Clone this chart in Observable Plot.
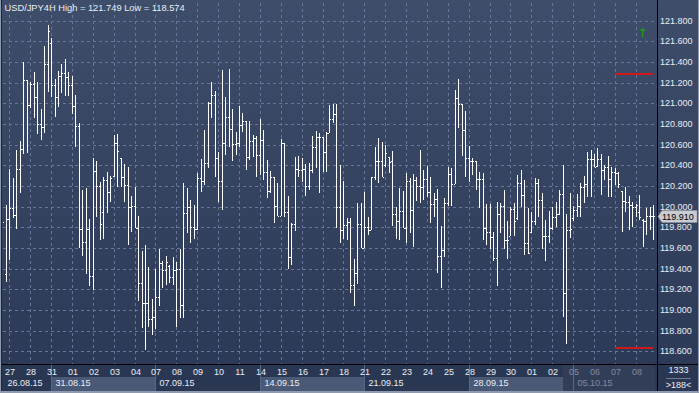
<!DOCTYPE html>
<html><head><meta charset="utf-8">
<script src="https://cdn.jsdelivr.net/npm/d3@7"></script>
<script src="https://cdn.jsdelivr.net/npm/@observablehq/plot@0.6"></script>
<style>html,body{margin:0;padding:0;background:#2a3753;}</style>
</head><body><div id="chart"></div>
<script>
// ---------- data ----------
const symbol = "USD/JPY";
const period = "4H";
const periodHigh = "121.749";
const periodLow = "118.574";

const opens = [119.775,119.349,119.881,119.987,119.920,120.365,120.558,121.226,120.984,121.187,121.061,120.800,120.771,121.381,121.584,121.178,121.061,121.265,121.294,121.255,121.178,120.974,120.781,119.784,119.658,119.784,119.329,120.345,120.200,119.949,120.258,120.142,120.297,120.616,120.471,120.287,120.210,119.997,120.007,119.794,119.262,119.068,119.068,118.913,118.933,119.126,119.455,119.387,119.426,119.320,119.387,119.397,119.049,119.939,119.997,119.804,119.784,120.278,120.249,120.423,121.003,121.081,120.471,120.249,120.616,120.868,120.752,120.607,120.616,120.791,120.829,120.481,120.636,120.665,120.500,120.645,120.336,120.152,120.287,120.007,119.910,120.616,119.949,119.513,119.833,120.365,120.355,120.365,120.200,120.355,120.578,120.674,120.674,120.529,120.713,120.849,120.897,119.997,119.775,119.823,119.852,119.242,119.358,119.833,119.600,119.804,119.775,120.287,120.442,120.442,120.403,120.481,120.442,119.929,119.862,119.958,119.794,120.249,119.968,120.258,120.200,120.191,120.268,120.142,120.026,120.075,119.523,119.581,120.036,120.316,120.220,121.052,120.994,120.742,120.471,120.442,120.442,120.268,120.268,119.794,119.755,119.707,119.504,119.929,120.007,119.678,119.716,119.978,119.891,120.229,120.113,119.649,119.755,119.862,120.229,120.065,119.716,119.716,119.794,119.900,119.929,120.123,119.165,119.775,119.891,119.968,120.007,120.191,120.220,120.462,120.462,120.394,120.462,120.355,120.384,120.268,120.336,120.326,120.152,120.055,120.045,120.016,119.997,119.949,119.871,119.862,119.910,119.910];
const highs = [119.920,120.016,120.365,120.278,120.549,120.636,121.400,121.226,121.207,121.303,121.207,120.945,121.555,121.758,121.632,121.236,121.313,121.381,121.429,121.303,121.265,121.081,120.810,120.162,120.181,119.881,120.471,120.442,120.239,120.287,120.336,120.297,120.694,120.703,120.471,120.413,120.384,120.104,120.191,119.910,119.571,119.629,119.417,119.107,119.397,119.591,119.475,119.523,119.436,119.513,119.465,119.591,120.229,120.181,120.065,120.016,120.326,120.462,120.742,121.013,121.207,121.119,120.529,121.323,121.061,121.332,120.945,120.723,120.974,120.907,120.829,120.829,120.694,120.684,120.849,120.742,120.452,120.345,120.287,120.229,120.655,120.616,120.104,119.842,120.481,120.491,120.471,120.413,120.423,120.684,120.732,120.713,120.674,120.723,120.984,120.994,120.994,120.403,120.249,119.891,119.891,119.494,120.036,120.036,120.142,119.900,120.287,120.578,120.665,120.626,120.597,120.481,120.539,119.997,120.181,120.152,120.326,120.278,120.316,120.287,120.549,120.355,120.394,120.287,120.133,120.171,119.813,120.084,120.384,120.374,121.129,121.236,120.994,120.926,120.587,120.471,120.442,120.336,120.326,120.026,120.026,119.755,120.045,120.036,120.162,119.862,119.997,120.036,120.307,120.355,120.258,119.987,119.949,120.278,120.268,120.133,119.871,119.958,119.997,120.045,120.162,120.403,119.929,120.133,120.007,120.123,120.229,120.297,120.529,120.549,120.510,120.568,120.510,120.403,120.491,120.384,120.374,120.336,120.152,120.191,120.104,120.045,120.026,120.113,119.881,119.987,119.997,120.016];
const lows = [119.678,119.271,119.484,119.891,119.784,120.133,120.510,120.520,120.955,120.858,120.703,120.645,120.713,121.110,121.061,120.868,120.965,121.100,121.071,121.071,120.897,120.578,119.600,119.523,119.349,119.233,119.194,119.900,119.678,119.687,119.939,120.045,120.287,120.191,120.191,120.045,119.629,119.755,119.794,119.088,118.826,118.613,118.836,118.759,118.817,119.039,119.213,119.242,119.262,119.242,118.836,118.923,118.923,119.746,119.649,119.687,119.775,120.142,120.210,120.374,120.858,120.287,120.045,119.968,120.500,120.578,120.442,120.500,120.578,120.723,120.355,120.452,120.481,120.287,120.307,120.258,120.084,120.133,119.842,119.910,119.910,119.900,119.397,119.436,119.765,120.287,120.239,120.104,120.162,120.326,120.374,120.133,120.336,120.336,120.713,120.810,119.794,119.649,119.687,119.678,119.165,119.039,119.252,119.600,119.600,119.726,119.775,120.258,120.229,120.287,120.384,120.326,119.813,119.687,119.678,119.794,119.649,119.746,119.610,120.055,120.036,120.065,120.094,119.842,119.900,119.358,119.213,119.513,120.007,120.007,120.220,120.761,120.491,120.287,120.239,120.307,120.162,119.987,119.678,119.629,119.591,119.475,119.233,119.746,119.591,119.494,119.716,119.716,119.871,119.997,119.533,119.542,119.746,119.823,119.900,119.591,119.475,119.649,119.775,119.804,119.920,118.933,118.671,119.697,119.862,119.900,119.900,120.036,120.094,120.094,120.384,120.384,120.113,120.258,120.094,120.094,120.210,120.181,119.755,119.949,119.775,119.804,119.900,119.871,119.610,119.726,119.775,119.678];
const closes = [119.852,119.881,119.987,119.920,120.365,120.558,121.226,120.984,121.187,121.061,120.800,120.771,121.381,121.700,121.178,121.061,121.265,121.294,121.255,121.178,120.974,120.781,119.784,119.658,119.784,119.329,120.345,120.200,119.833,120.258,120.142,120.278,120.616,120.539,120.287,120.210,119.997,120.007,119.794,119.262,119.068,119.068,118.913,118.933,119.126,119.455,119.387,119.465,119.320,119.387,119.397,119.049,119.939,119.997,119.804,119.784,120.278,120.249,120.423,121.003,121.081,120.471,120.249,120.616,120.868,120.752,120.607,120.616,120.791,120.829,120.481,120.636,120.665,120.500,120.645,120.336,120.152,120.287,120.007,119.910,120.616,119.949,119.513,119.833,120.365,120.355,120.365,120.200,120.355,120.578,120.674,120.674,120.529,120.713,120.849,120.897,119.997,119.775,119.823,119.852,119.242,119.358,119.833,119.600,119.804,119.775,120.287,120.442,120.442,120.287,120.520,120.433,119.929,119.862,119.958,119.794,120.249,119.968,120.258,120.200,120.191,120.268,120.142,120.026,120.075,119.523,119.581,120.036,120.316,120.220,121.052,120.994,120.742,120.471,120.442,120.442,120.268,120.268,119.794,119.755,119.707,119.504,119.929,120.007,119.678,119.678,119.978,119.862,120.229,120.113,119.649,119.552,119.862,120.229,120.065,119.716,119.716,119.794,119.900,119.929,120.123,119.165,119.775,119.784,119.968,120.007,120.191,120.220,120.462,120.462,120.384,120.462,120.355,120.384,120.268,120.336,120.326,120.220,120.055,120.045,120.016,119.997,120.016,119.900,119.862,119.910,119.910,119.910];

const dayLabels = ["27","28","31","01","02","03","04","07","08","09","10","11","14","15","16","17","18","21","22","23","24","25","28","29","30","01","02","05","06","07","08"];
const weekLabels = ["26.08.15","31.08.15","07.09.15","14.09.15","21.09.15","28.09.15","05.10.15"];
const weekStartDay = [-1, 2, 7, 12, 17, 22, 27];   // index into dayLabels (-1: partial first week)
const firstDayBar = 2;     // bar index of the first labelled day
const barsPerDay = 6;
const dimmedFromBar = 161; // start of the dimmed region of the time bar
const yTicks = [118.6,118.8,119.0,119.2,119.4,119.6,119.8,120.0,120.2,120.4,120.6,120.8,121.0,121.2,121.4,121.6,121.8];
const levelLines = [{price: 121.294, fromBar: 176.1, toBar: 187.0}, {price: 118.640, fromBar: 176.1, toBar: 187.0}];
const arrowMarks = [{bar: 183.7, price: 121.68}];
const totalBars = "1333";

// ---------- layout ----------
const W = 699, H = 393, mL = 3, mR = 42, mT = 3, mB = 29;
const xDom = [0.2, 188.1];
const yDom = [118.478, 121.971];
const px = (xDom[1] - xDom[0]) / (W - mL - mR);  // one pixel in bar units

const bars = opens.map((o, i) => ({i, o, h: highs[i], l: lows[i], c: closes[i]}));
const days = dayLabels.map((t, k) => ({t, i: firstDayBar + k * barsPerDay}));
const weeks = weekLabels.map((t, j) => ({
  t, j,
  start: weekStartDay[j] < 0 ? xDom[0] : firstDayBar + weekStartDay[j] * barsPerDay
}));
weeks.forEach((w, j) => w.end = j + 1 < weeks.length ? weeks[j + 1].start : xDom[1]);
const lastClose = closes[closes.length - 1];

const txt = "#e9edf3", dim = "#7f8aa2", grid = "#64769a", light = "#8f9ab0";

const chart = Plot.plot({
  width: W, height: H,
  marginLeft: mL, marginRight: mR, marginTop: mT, marginBottom: mB,
  x: {domain: xDom, round: true, axis: null},
  y: {domain: yDom, round: true, axis: null},
  style: {
    background: "linear-gradient(to bottom, #3e4d6a 0px, #2c3a58 364px, #2a3753 364px, #2a3753 393px)",
    fontFamily: "'Liberation Sans', Arial, sans-serif",
    fontSize: "9px",
    color: txt
  },
  marks: [
    // time bar boxes
    Plot.rect(weeks.filter(w => w.j % 2 === 1), {x1: "start", x2: "end", fill: "#4a5976", insetTop: 374, insetBottom: -27}),
    Plot.rect([{start: dimmedFromBar, end: 187.5}], {x1: "start", x2: "end", fill: "#323e58", insetTop: 361, insetBottom: -27}),
    Plot.ruleX(weeks.slice(1), {x: "start", stroke: "#56668a", insetTop: 361, insetBottom: -27}),
    // grid
    Plot.ruleY(yTicks, {y: d => d, stroke: grid, strokeDasharray: "3,3"}),
    Plot.ruleX(days, {x: "i", stroke: grid, strokeDasharray: "3,3"}),
    // OHLC bars
    Plot.ruleX(bars, {x: "i", y1: "l", y2: "h", stroke: "#ffffff", clip: true}),
    Plot.ruleY(bars, {y: "o", x1: d => d.i - px, x2: "i", stroke: "#ffffff", clip: true}),
    Plot.ruleY(bars, {y: "c", x1: d => d.i + px, x2: d => d.i + 2 * px, stroke: "#ffffff", clip: true}),
    // level lines & arrow
    Plot.ruleY(levelLines, {y: "price", x1: "fromBar", x2: "toBar", stroke: "#d01a1a", strokeWidth: 2, dy: 0.5}),
    Plot.text(arrowMarks, {x: "bar", y: "price", text: () => "↑", fill: "#159a15", fontSize: 12, fontWeight: "bold", fontFamily: "DejaVu Sans"}),
    // header
    Plot.text([`${symbol}${period} High = ${periodHigh} Low = ${periodLow}`], {frameAnchor: "top-left", dx: 1, dy: 1, textAnchor: "start", lineAnchor: "top", fontSize: 9.3, fill: txt}),
    // y labels
    Plot.text(yTicks, {y: d => d, text: d => d.toFixed(3), frameAnchor: "right", dx: 2.5, textAnchor: "start", fill: txt}),
    // day labels
    Plot.text(days.filter(d => d.i < dimmedFromBar), {x: "i", text: "t", frameAnchor: "bottom", dy: 10.5, dx: 0.5, fill: txt}),
    Plot.text(days.filter(d => d.i >= dimmedFromBar), {x: "i", text: "t", frameAnchor: "bottom", dy: 10.5, dx: 0.5, fill: dim}),
    // week labels
    Plot.text(weeks.filter(w => w.start < dimmedFromBar), {x: "start", text: "t", frameAnchor: "bottom", dy: 21.5, dx: 4, textAnchor: "start", fill: txt}),
    Plot.text(weeks.filter(w => w.start >= dimmedFromBar), {x: "start", text: "t", frameAnchor: "bottom", dy: 21.5, dx: 4, textAnchor: "start", fill: dim}),
    // frame lines
    Plot.ruleY([yDom[0]], {stroke: "#000", insetLeft: -3, insetRight: -42}),
    Plot.ruleX([xDom[1]], {stroke: "#000", insetTop: -3, insetBottom: -29}),
    Plot.ruleX([xDom[0]], {dx: -3, stroke: light, insetTop: -3, insetBottom: -29}),
    Plot.ruleX([xDom[0]], {dx: -2, stroke: "#1d2639", insetTop: -3, insetBottom: -29}),
    Plot.ruleX([xDom[1]], {dx: 41, stroke: light, insetTop: -3, insetBottom: -29}),
    Plot.ruleY([yDom[0]], {dy: 27.5, strokeWidth: 2, stroke: light, insetLeft: -3, insetRight: -42}),
    // bar counters
    Plot.ruleY([yDom[0]], {dy: 14, stroke: "#6f7890", insetLeft: 663, insetRight: -34}),
    Plot.text([totalBars], {frameAnchor: "bottom-right", dx: 21, dy: 8.5, textAnchor: "middle", fill: txt}),
    Plot.text([`>${bars.length}<`], {frameAnchor: "bottom-right", dx: 21, dy: 23, textAnchor: "middle", fill: txt})
  ]
});

// current price tag, placed with the plot's y scale
const Y = chart.scale("y").apply(lastClose);
const X0 = W - mR;
const svg = d3.select(chart);
svg.append("path")
  .attr("d", `M${X0 + 1},${Y + 0.5} L${X0 + 5},${Y - 5.5} H${X0 + 40} V${Y + 6.5} H${X0 + 5} Z`)
  .attr("fill", "#c9ccd2").attr("stroke", "#8d93a0").attr("stroke-width", 0.6);
svg.append("text")
  .attr("x", X0 + 5).attr("y", Y + 0.5).attr("dy", "0.35em")
  .attr("text-anchor", "start")
  .attr("fill", "#000").attr("font-size", 9)
  .text(lastClose.toFixed(3));

document.getElementById("chart").append(chart);
</script>
</body></html>
